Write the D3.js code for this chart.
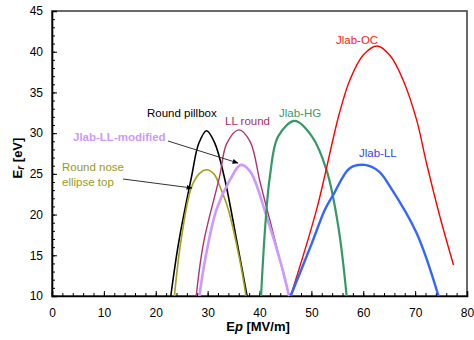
<!DOCTYPE html>
<html>
<head>
<meta charset="utf-8">
<script src="https://cdn.jsdelivr.net/npm/d3@7"></script>
<style>
  body { margin: 0; background: #fff; }
  svg { font-family: "Liberation Sans", Arial, sans-serif; }
</style>
</head>
<body>
<div id="chart"></div>
<script>
// values: [Ep, Er]
const roundPillbox = [[22.9,10],[24.4,16.5],[26.9,24.65],[28.3,28.75],[29.8,30.3],[31.4,28.75],[33.2,24.65],[35.7,16.5],[37.6,10]];
const roundNose = [[23.6,10],[24.8,16.5],[26.9,23.4],[28.5,25.1],[29.8,25.5],[31.2,25],[32.4,23.4],[34.0,20.6],[36.2,14.4],[37.4,10]];
const llRound = [[27.8,10],[29.2,16.5],[32.3,24.65],[33.7,28.75],[36.05,30.4],[38.2,28.95],[40.1,24],[42.0,19.3],[45.7,10]];
const jlabLLmod = [[28.4,10],[29.5,14.4],[31.7,20.6],[34.3,24.25],[36.4,26.1],[38.2,25.3],[41.4,19.7],[44.3,13.6],[45.7,10]];
const jlabHG = [[40.3,10],[41.1,18.5],[42.0,24.65],[43.6,29.6],[46.8,31.5],[50.1,29.6],[53.0,25.3],[55.2,18.5],[56.8,10]];
const jlabOC = [[46.0,10],[51.0,20.6],[55.3,32.2],[57.4,36.5],[60,39.6],[62.7,40.7],[65.2,39.5],[67.7,36.5],[70.3,31.6],[72.2,26.3],[74.8,19.7],[77.4,13.8]];
const jlabLL = [[46.0,10],[50.1,16.5],[52.6,20.6],[54.2,22.4],[57.4,25.7],[60.3,26.1],[63,25.3],[65.2,23.4],[70.3,17.7],[74.5,10]];

const xTicks = [0,10,20,30,40,50,60,70,80];
const yTicks = [10,15,20,25,30,35,40,45];

const series = [
  {name: "Round pillbox", data: roundPillbox, color: "#000000", w: 1.6},
  {name: "Round nose", data: roundNose, color: "#a3a01a", w: 1.6},
  {name: "LL round", data: llRound, color: "#b0336e", w: 1.4},
  {name: "Jlab-LL-modified", data: jlabLLmod, color: "#cc99ff", w: 2.6},
  {name: "Jlab-HG", data: jlabHG, color: "#339966", w: 2.2},
  {name: "Jlab-OC", data: jlabOC, color: "#ff0000", w: 1.4},
  {name: "Jlab-LL", data: jlabLL, color: "#3366ff", w: 2.4}
];

const width = 474, height = 340;
const pLeft = 52, pRight = 467, pTop = 11, pBottom = 296;

const x = d3.scaleLinear().domain([0, 80]).range([pLeft, pRight]);
const y = d3.scaleLinear().domain([10, 45]).range([pBottom, pTop]);

const svg = d3.select("#chart").append("svg")
  .attr("width", width).attr("height", height);

svg.append("defs").append("marker")
  .attr("id", "arrow")
  .attr("viewBox", "0 0 10 10")
  .attr("refX", 9).attr("refY", 5)
  .attr("markerWidth", 6).attr("markerHeight", 6)
  .attr("orient", "auto")
  .append("path").attr("d", "M0,1 L10,5 L0,9 Z").attr("fill", "#000");

// frame
svg.append("rect")
  .attr("x", pLeft).attr("y", pTop)
  .attr("width", pRight - pLeft).attr("height", pBottom - pTop)
  .attr("fill", "#fff").attr("stroke", "#444").attr("stroke-width", 1.6);

// axes with inside ticks
const xMinor = d3.range(0, 81, 2);
const yMinor = d3.range(10, 46, 1);

const gx = svg.append("g").attr("transform", `translate(0,${pBottom})`);
gx.call(d3.axisBottom(x).tickValues(xMinor).tickSize(-3).tickFormat(""));
gx.call(g => g.select(".domain").remove());
const gx2 = svg.append("g").attr("transform", `translate(0,${pBottom})`)
  .call(d3.axisBottom(x).tickValues(xTicks).tickSize(-5).tickPadding(12));
gx2.select(".domain").attr("stroke-width", 1.6);
gx2.selectAll("text").attr("font-size", 12).attr("fill", "#000");

const gy = svg.append("g").attr("transform", `translate(${pLeft},0)`);
gy.call(d3.axisLeft(y).tickValues(yMinor).tickSize(-3).tickFormat(""));
gy.call(g => g.select(".domain").remove());
const gy2 = svg.append("g").attr("transform", `translate(${pLeft},0)`)
  .call(d3.axisLeft(y).tickValues(yTicks).tickSize(-5).tickPadding(9));
gy2.select(".domain").attr("stroke-width", 1.6);
gy2.selectAll("text").attr("font-size", 12).attr("fill", "#000");

// curves
const line = d3.line()
  .x(d => x(d[0])).y(d => y(d[1]))
  .curve(d3.curveCatmullRom.alpha(0.5));

svg.append("g").selectAll("path")
  .data(series)
  .join("path")
  .attr("d", d => line(d.data))
  .attr("fill", "none")
  .attr("stroke", d => d.color)
  .attr("stroke-width", d => d.w);

// labels
const labels = [
  {t: "Round pillbox", x: 147, y: 117, c: "#000", b: false},
  {t: "LL round", x: 225, y: 125, c: "#a8306a", b: false},
  {t: "Jlab-HG", x: 279, y: 117, c: "#3a9a70", b: false},
  {t: "Jlab-OC", x: 336, y: 44, c: "#ff2020", b: false},
  {t: "Jlab-LL", x: 359, y: 157, c: "#3344ee", b: false},
  {t: "Jlab-LL-modified", x: 73, y: 141, c: "#cc99ff", b: true},
  {t: "Round nose", x: 62, y: 171, c: "#999922", b: false},
  {t: "ellipse top", x: 62, y: 186, c: "#999922", b: false}
];
svg.append("g").selectAll("text")
  .data(labels)
  .join("text")
  .attr("x", d => d.x).attr("y", d => d.y)
  .attr("font-size", 11.5)
  .attr("font-weight", d => d.b ? "bold" : "normal")
  .attr("fill", d => d.c)
  .text(d => d.t);

// arrows
const arrows = [
  [[168, 141], [238, 163]],
  [[123, 179], [192, 188]]
];
svg.append("g").selectAll("line")
  .data(arrows)
  .join("line")
  .attr("x1", d => d[0][0]).attr("y1", d => d[0][1])
  .attr("x2", d => d[1][0]).attr("y2", d => d[1][1])
  .attr("stroke", "#333").attr("stroke-width", 1)
  .attr("marker-end", "url(#arrow)");

// axis titles
const xt = svg.append("text")
  .attr("x", 258).attr("y", 331)
  .attr("text-anchor", "middle")
  .attr("font-size", 13).attr("font-weight", "bold");
xt.append("tspan").text("E");
xt.append("tspan").attr("font-style", "italic").text("p");
xt.append("tspan").text("  [MV/m]");

const yt = svg.append("text")
  .attr("transform", "translate(22,158) rotate(-90)")
  .attr("text-anchor", "middle")
  .attr("font-size", 13).attr("font-weight", "bold");
yt.append("tspan").text("E");
yt.append("tspan").attr("font-style", "italic").attr("font-size", 10).attr("dy", 2).text("r");
yt.append("tspan").attr("dy", -2).text(" [eV]");
</script>
</body>
</html>
